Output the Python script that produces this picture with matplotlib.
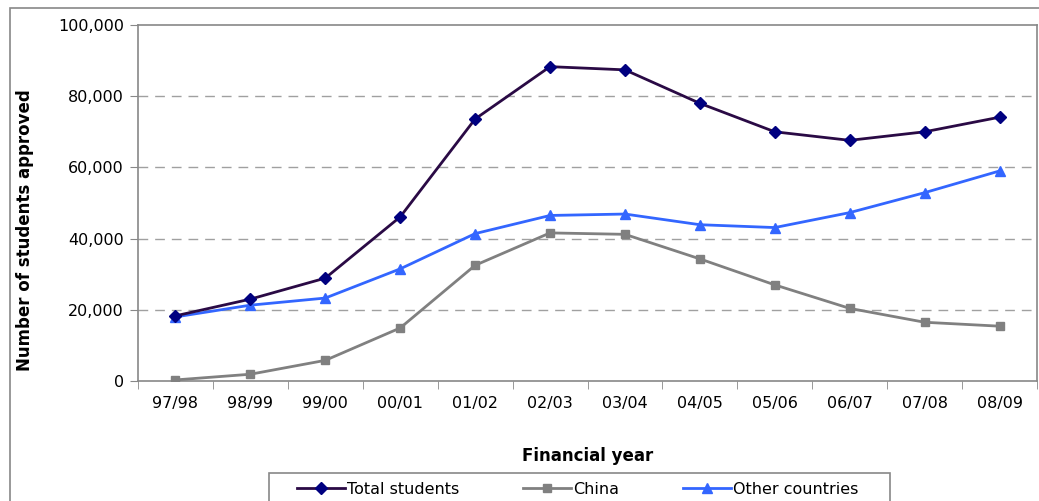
import matplotlib.pyplot as plt
from matplotlib.patches import Rectangle
from matplotlib.ticker import FuncFormatter, FixedLocator

years = ["97/98", "98/99", "99/00", "00/01", "01/02", "02/03",
         "03/04", "04/05", "05/06", "06/07", "07/08", "08/09"]
total_students = [18300, 23000, 28900, 46100, 73600, 88300,
                  87400, 78000, 70000, 67600, 70000, 74100]
china = [300, 1900, 5800, 14900, 32500, 41600,
         41200, 34300, 27000, 20400, 16500, 15400]
other_countries = [18000, 21300, 23300, 31500, 41400, 46500,
                   46900, 43900, 43100, 47300, 52900, 59000]

W, H = 1039, 501
fig = plt.figure(figsize=(W / 100, H / 100), dpi=100)

# outer chart border (cut off at right and bottom)
fig.patches.append(Rectangle((10 / W, -0.2), 1.5, (H - 8) / H + 0.2,
                             transform=fig.transFigure, fill=False,
                             edgecolor="#888888", linewidth=1.2))
# legend box, also cut off at the bottom
fig.patches.append(Rectangle((269 / W, -0.1), (890 - 269) / W, (H - 473) / H + 0.1,
                             transform=fig.transFigure, fill=False,
                             edgecolor="#888888", linewidth=1.2))

ax = fig.add_axes([138 / W, (H - 381) / H, (1037 - 138) / W, (381 - 25) / H])

x = range(len(years))
ax.plot(x, total_students, color="#2a0a45", linewidth=2, marker="D",
        markersize=6.5, markerfacecolor="#000080", markeredgecolor="#000080",
        label="Total students", zorder=5)
ax.plot(x, china, color="#808080", linewidth=2, marker="s",
        markersize=6, markerfacecolor="#808080", markeredgecolor="#808080",
        label="China", zorder=4)
ax.plot(x, other_countries, color="#3366ff", linewidth=2, marker="^",
        markersize=7, markerfacecolor="#3366ff", markeredgecolor="#3366ff",
        label="Other countries", zorder=4)

ax.set_xlim(-0.5, len(years) - 0.5)
ax.set_ylim(0, 100000)
ax.set_yticks(range(0, 100001, 20000))
ax.yaxis.set_major_formatter(FuncFormatter(lambda v, p: f"{int(v):,}"))
ax.set_xticks(list(x))
ax.set_xticklabels(years)
ax.xaxis.set_minor_locator(FixedLocator([i - 0.5 for i in range(len(years) + 1)]))
ax.tick_params(axis="x", which="major", length=0, pad=11, labelsize=11.5)
ax.tick_params(axis="x", which="minor", length=6, color="#888888", direction="out")
ax.tick_params(axis="y", length=6, color="#888888", direction="out", labelsize=11.5, pad=4)

for v in range(20000, 100000, 20000):
    ax.axhline(v, color="#a0a0a0", linewidth=1, linestyle=(0, (7, 5)), zorder=1)

for s in ax.spines.values():
    s.set_color("#888888")
    s.set_linewidth(1.2)

ax.set_ylabel("Number of students approved", fontsize=12, fontweight="bold")
ax.yaxis.set_label_coords(-0.1157, 0.424)
ax.set_xlabel("Financial year", fontsize=12, fontweight="bold", labelpad=26)

leg = fig.legend(loc="upper left", bbox_to_anchor=(297 / W, (H - 482) / H),
                 ncol=3, frameon=False, fontsize=11.5,
                 handlelength=3.0, handletextpad=0.12, columnspacing=4.0,
                 borderpad=0, borderaxespad=0)

fig.savefig("out.png", dpi=100)
